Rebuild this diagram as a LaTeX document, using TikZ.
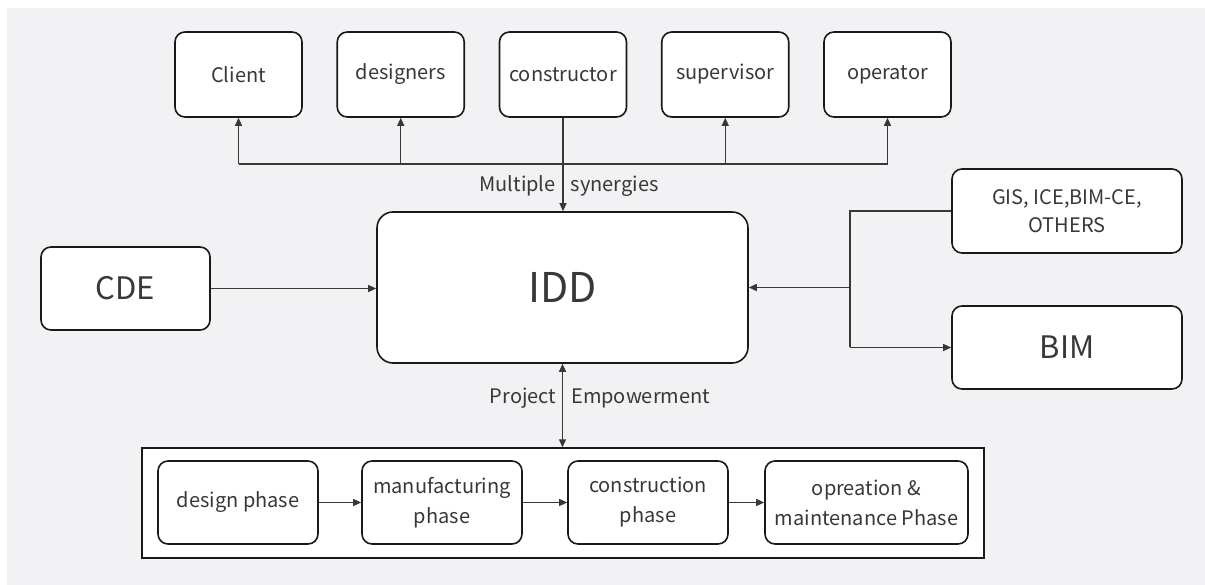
\documentclass[tikz,border=0pt]{standalone}
\usepackage{fontspec}
\setmainfont{Noto Sans CJK SC}
\usetikzlibrary{arrows.meta}
\definecolor{bggrey}{HTML}{F2F2F4}
\definecolor{inkgrey}{HTML}{383838}
\begin{document}
\begin{tikzpicture}[x=1pt, y=-1pt,
    box/.style={draw=black!90, line width=1.6pt, fill=white, rounded corners=10pt,
      inner sep=0pt, align=center, text=inkgrey, font=\fontsize{20}{30}\selectfont},
    bigbox/.style={box, font=\fontsize{31}{36}\selectfont},
    wire/.style={draw=inkgrey, line width=1.1pt},
    tag/.style={text=inkgrey, font=\fontsize{20}{26}\selectfont, inner sep=0pt},
    >={Triangle[length=8pt, width=7pt]}]
  \useasboundingbox (0,0) rectangle (1205,585);
  \fill[bggrey] (7,8) rectangle (1205,585);

  % stakeholders
  \foreach \name/\txt [count=\i] in {client/Client, designers/designers,
      constructor/constructor, supervisor/supervisor, operator/operator}
    \node[box, minimum width=127pt, minimum height=85pt] (\name)
      at ({238.5+162.25*(\i-1)}, 74.5) {\txt};

  \node[box, rounded corners=16pt, minimum width=371pt, minimum height=151pt,
    font=\fontsize{41}{46}\selectfont] (IDD) at (562.5,287.5) {IDD};
  \node[bigbox, minimum width=169pt, minimum height=83pt] (CDE) at (125.5,288.5) {CDE};
  \node[box, minimum width=230pt, minimum height=84pt, font=\fontsize{20}{28}\selectfont]
    (GIS) at (1067,211) {GIS, ICE,BIM-CE,\\OTHERS};
  \node[bigbox, minimum width=230pt, minimum height=83pt] (BIM) at (1067,347.5) {BIM};

  % project phases
  \node[draw=black!90, line width=1.4pt, fill=white, minimum width=842pt,
    minimum height=110pt] (phases) at (563,503) {};
  \node[box, minimum width=160pt, minimum height=83pt] (design) at (238,502.5) {design phase};
  \node[box, minimum width=160pt, minimum height=83pt] (manufacturing) at (442,502.5)
    {manufacturing\\phase};
  \node[box, minimum width=160pt, minimum height=83pt] (construction) at (648,502.5)
    {construction\\phase};
  \node[box, minimum width=203pt, minimum height=83pt] (operation) at (866.5,502.5)
    {opreation \&\\maintenance Phase};

  \node[tag] (synergies) at (569,186) {Multiple\hspace{0.75em}synergies};
  \node[tag] (empower) at (600,398) {Project\hspace{0.75em}Empowerment};

  % connectors
  \coordinate (bus) at (0,164);
  \coordinate (branch) at (850,0);
  \draw[wire] (client |- bus) -- (operator |- bus);
  \foreach \n in {client, designers, supervisor, operator}
    \draw[wire, ->] (\n |- bus) -- (\n.south);
  \draw[wire, ->] (constructor.south) -- (constructor.south |- IDD.north);
  \draw[wire, ->] (CDE.east) -- (CDE.east -| IDD.west);
  \draw[wire] (GIS.west) -| (branch |- BIM.west);
  \draw[wire, ->] (branch |- BIM.west) -- (BIM.west);
  \draw[wire, line width=1.6pt, ->] (branch |- IDD.east) -- (IDD.east);
  \draw[wire, <->] (IDD.south) -- (IDD.south |- phases.north);
  \draw[wire, ->] (design) -- (manufacturing);
  \draw[wire, ->] (manufacturing) -- (construction);
  \draw[wire, ->] (construction) -- (operation);
\end{tikzpicture}
\end{document}
